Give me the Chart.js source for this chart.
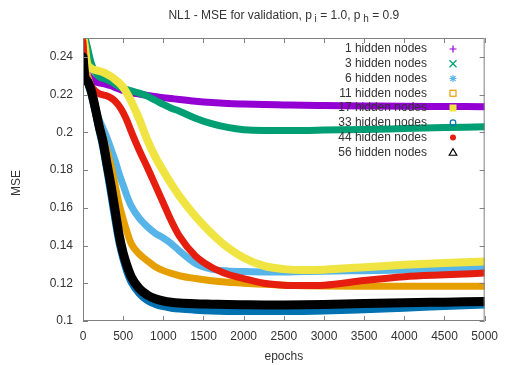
<!DOCTYPE html>
<html>
<head>
<meta charset="utf-8">
<script src="https://cdn.jsdelivr.net/npm/chart.js@4.4.1/dist/chart.umd.min.js"></script>
<style>
  html, body { margin: 0; padding: 0; background: #ffffff; }
  #wrap { width: 506px; height: 365px; position: relative; }
</style>
</head>
<body>
<div id="wrap"><canvas id="c" width="506" height="365"></canvas></div>
<script>
// Validation MSE per training epoch, one series per hidden-layer size
const epochs = [0, 25, 50, 100, 150, 200, 250, 300, 350, 400, 450, 500, 550, 600, 700, 800, 900,
  1000, 1100, 1200, 1400, 1600, 1800, 2000, 2250, 2500, 2750, 3000, 3500, 4000, 4500, 5000];

const nodes1 = [0.245, 0.237, 0.232, 0.2285, 0.227, 0.2262, 0.2258, 0.2253, 0.2247, 0.2238, 0.2230, 0.2222,
  0.2216, 0.2210, 0.2203, 0.2196, 0.2190, 0.2184, 0.2179, 0.2174, 0.2165, 0.2158, 0.2153, 0.2150, 0.2147,
  0.2145, 0.2143, 0.2142, 0.2140, 0.2138, 0.2137, 0.2136];
const nodes3 = [0.252, 0.250, 0.246, 0.237, 0.232, 0.2295, 0.2285, 0.2278, 0.2268, 0.2255, 0.2242, 0.2232,
  0.2226, 0.2220, 0.2208, 0.2192, 0.2170, 0.2148, 0.2128, 0.2112, 0.2075, 0.2046, 0.2026, 0.2014, 0.2010,
  0.2010, 0.2010, 0.2012, 0.2015, 0.2020, 0.2025, 0.2030];
const nodes6 = [0.246, 0.236, 0.231, 0.222, 0.214, 0.207, 0.202, 0.197, 0.191, 0.185, 0.178, 0.172,
  0.166, 0.161, 0.1545, 0.1500, 0.1465, 0.1440, 0.1410, 0.1372, 0.1305, 0.1275, 0.1265, 0.1262, 0.1260,
  0.1260, 0.1262, 0.1264, 0.1267, 0.1270, 0.1275, 0.1280];
const nodes11 = [0.247, 0.236, 0.231, 0.224, 0.215, 0.205, 0.197, 0.190, 0.182, 0.172, 0.162, 0.154,
  0.147, 0.141, 0.1355, 0.1320, 0.1288, 0.1267, 0.1252, 0.1240, 0.1225, 0.1213, 0.1205, 0.1200, 0.1195,
  0.1190, 0.1187, 0.1185, 0.1184, 0.1184, 0.1184, 0.1184];
const nodes17 = [0.252, 0.245, 0.237, 0.234, 0.233, 0.2325, 0.2318, 0.2308, 0.2296, 0.2280, 0.2262, 0.2238,
  0.2205, 0.2165, 0.2070, 0.1960, 0.1870, 0.1795, 0.1725, 0.1662, 0.1555, 0.1465, 0.1390, 0.1335, 0.1292,
  0.1275, 0.1270, 0.1272, 0.1285, 0.1298, 0.1308, 0.1315];
const nodes33 = [0.245, 0.231, 0.227, 0.220, 0.211, 0.201, 0.191, 0.179, 0.166, 0.153, 0.141, 0.1325,
  0.1255, 0.1205, 0.1145, 0.1108, 0.1088, 0.1076, 0.1068, 0.1063, 0.1057, 0.1053, 0.1051, 0.1050, 0.1050,
  0.1050, 0.1051, 0.1053, 0.1060, 0.1068, 0.1077, 0.1085];
const nodes44 = [0.248, 0.232, 0.228, 0.2245, 0.222, 0.2205, 0.2198, 0.2193, 0.2182, 0.2165, 0.2140, 0.2105,
  0.2060, 0.2005, 0.1905, 0.1815, 0.1720, 0.1625, 0.1530, 0.1450, 0.1345, 0.1285, 0.1248, 0.1225, 0.1200,
  0.1190, 0.1188, 0.1190, 0.1215, 0.1235, 0.1245, 0.1254];
const nodes56 = [0.240, 0.229, 0.2275, 0.2225, 0.2135, 0.2035, 0.1950, 0.1830, 0.1715, 0.1585, 0.1455, 0.1360,
  0.1290, 0.1235, 0.1172, 0.1138, 0.1118, 0.1106, 0.1099, 0.1095, 0.1091, 0.1089, 0.1087, 0.1086, 0.1085,
  0.1085, 0.1086, 0.1088, 0.1093, 0.1097, 0.1100, 0.1103];

const seriesLabels = ['1 hidden nodes', '3 hidden nodes', '6 hidden nodes', '11 hidden nodes',
  '17 hidden nodes', '33 hidden nodes', '44 hidden nodes', '56 hidden nodes'];
const seriesValues = [nodes1, nodes3, nodes6, nodes11, nodes17, nodes33, nodes44, nodes56];

const xTicks = [0, 500, 1000, 1500, 2000, 2500, 3000, 3500, 4000, 4500, 5000];
const yTicks = [0.1, 0.12, 0.14, 0.16, 0.18, 0.2, 0.22, 0.24];

// Styling per series
const colors = ['#9400d3', '#009e73', '#56b4e9', '#e69f00', '#f0e442', '#0072b2', '#e51e10', '#000000'];
const widths = [7, 7, 7, 7, 8, 7, 7, 9];
const markers = ['plus', 'cross', 'star', 'square', 'squareFilled', 'circle', 'circleFilled', 'triangle'];

const FONT = "'Liberation Sans', Arial, sans-serif";
const TEXT = '#333333';
const FRAME = '#808080';

function drawMarker(ctx, kind, x, y, color) {
  const s = 3.5;
  ctx.save();
  ctx.strokeStyle = color;
  ctx.fillStyle = color;
  ctx.lineWidth = 1.2;
  ctx.beginPath();
  if (kind === 'plus' || kind === 'star') {
    ctx.moveTo(x - s, y); ctx.lineTo(x + s, y);
    ctx.moveTo(x, y - s); ctx.lineTo(x, y + s);
  }
  if (kind === 'cross' || kind === 'star') {
    const d = kind === 'star' ? s * 0.75 : s;
    ctx.moveTo(x - d, y - d); ctx.lineTo(x + d, y + d);
    ctx.moveTo(x - d, y + d); ctx.lineTo(x + d, y - d);
  }
  if (kind === 'plus' || kind === 'cross' || kind === 'star') ctx.stroke();
  if (kind === 'square') { ctx.strokeRect(x - 3, y - 3, 6, 6); }
  if (kind === 'squareFilled') { ctx.fillRect(x - 3.5, y - 3.5, 7, 7); }
  if (kind === 'circle') { ctx.arc(x, y, 2.8, 0, Math.PI * 2); ctx.stroke(); }
  if (kind === 'circleFilled') { ctx.arc(x, y, 3, 0, Math.PI * 2); ctx.fill(); }
  if (kind === 'triangle') {
    ctx.moveTo(x, y - 3.5); ctx.lineTo(x + 3.8, y + 3); ctx.lineTo(x - 3.8, y + 3); ctx.closePath(); ctx.stroke();
  }
  ctx.restore();
}

// Frame, inward tick marks, key, title and axis titles
const decorations = {
  id: 'decorations',
  afterDatasetsDraw(chart) {
    const { ctx, chartArea: a, scales } = chart;
    ctx.save();
    ctx.strokeStyle = FRAME;
    ctx.lineWidth = 1;
    ctx.strokeRect(a.left + 0.5, a.top + 0.5, a.right - a.left - 1, a.bottom - a.top - 1);
    const tl = 5;
    ctx.beginPath();
    xTicks.forEach(v => {
      const px = Math.round(scales.x.getPixelForValue(v)) + 0.5;
      ctx.moveTo(px, a.bottom); ctx.lineTo(px, a.bottom - tl);
      ctx.moveTo(px, a.top); ctx.lineTo(px, a.top + tl);
    });
    yTicks.forEach(v => {
      const py = Math.round(scales.y.getPixelForValue(v)) + 0.5;
      ctx.moveTo(a.left, py); ctx.lineTo(a.left + tl, py);
      ctx.moveTo(a.right, py); ctx.lineTo(a.right - tl, py);
    });
    ctx.stroke();

    // key
    ctx.font = '12px ' + FONT;
    ctx.fillStyle = TEXT;
    ctx.textAlign = 'right';
    ctx.textBaseline = 'middle';
    seriesLabels.forEach((lab, i) => {
      const y = 49 + i * 14.75;
      ctx.fillText(lab, 427, y);
      drawMarker(ctx, markers[i], 453, y, colors[i]);
    });

    // title with subscripts
    const parts = [
      ['NL1 - MSE for validation, p', false], [' i', true], [' = 1.0, p', false], [' h', true], [' = 0.9', false]
    ];
    const fMain = '12px ' + FONT, fSub = '10px ' + FONT;
    let total = 0;
    parts.forEach(([t, sub]) => { ctx.font = sub ? fSub : fMain; total += ctx.measureText(t).width; });
    let x = (a.left + a.right) / 2 - total / 2;
    ctx.textAlign = 'left';
    ctx.textBaseline = 'alphabetic';
    parts.forEach(([t, sub]) => {
      ctx.font = sub ? fSub : fMain;
      ctx.fillText(t, x, sub ? 22 : 19);
      x += ctx.measureText(t).width;
    });

    // axis titles
    ctx.font = '12px ' + FONT;
    ctx.textAlign = 'center';
    ctx.textBaseline = 'middle';
    ctx.fillText('epochs', (a.left + a.right) / 2, 357);
    ctx.translate(17, 183);
    ctx.rotate(-Math.PI / 2);
    ctx.fillText('MSE', 0, 0);
    ctx.restore();
  }
};

const datasets = seriesValues.map((vals, i) => ({
  label: seriesLabels[i],
  data: epochs.map((e, k) => ({ x: e, y: vals[k] })),
  borderColor: colors[i],
  backgroundColor: colors[i],
  borderWidth: widths[i],
  pointRadius: 0,
  fill: false,
  cubicInterpolationMode: 'monotone',
  borderCapStyle: 'round',
  borderJoinStyle: 'round',
  order: seriesLabels.length - i
}));

new Chart(document.getElementById('c'), {
  type: 'line',
  data: { datasets },
  plugins: [decorations],
  options: {
    responsive: false,
    devicePixelRatio: 1,
    animation: false,
    layout: { padding: { left: 0, top: 38, right: 19, bottom: 0 } },
    plugins: { legend: { display: false }, title: { display: false }, tooltip: { enabled: false } },
    scales: {
      x: {
        type: 'linear', min: 0, max: 5000,
        afterBuildTicks: s => { s.ticks = xTicks.map(v => ({ value: v })); },
        afterFit: s => { s.height = 44; },
        grid: { display: false, drawTicks: false },
        border: { display: false },
        ticks: { font: { family: FONT, size: 12 }, color: TEXT, padding: 8, maxRotation: 0, autoSkip: false,
          callback: v => String(v) }
      },
      y: {
        type: 'linear', min: 0.1, max: 0.25,
        afterBuildTicks: s => { s.ticks = yTicks.map(v => ({ value: v })); },
        afterFit: s => { s.width = 83; },
        grid: { display: false, drawTicks: false },
        border: { display: false },
        ticks: { font: { family: FONT, size: 12 }, color: TEXT, padding: 10, autoSkip: false,
          callback: v => String(+Number(v).toFixed(2)) }
      }
    }
  }
});
</script>
</body>
</html>
